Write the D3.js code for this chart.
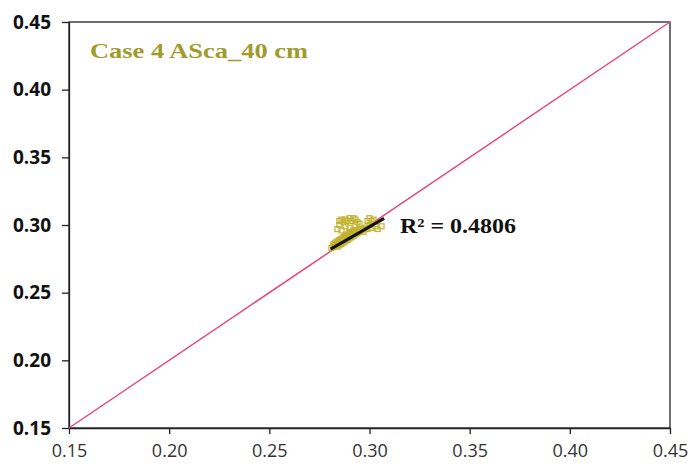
<!DOCTYPE html>
<html>
<head>
<meta charset="utf-8">
<script src="https://cdn.jsdelivr.net/npm/d3@7"></script>
<style>
  html, body { margin: 0; padding: 0; background: #fff; }
  svg { display: block; }
</style>
</head>
<body>
<svg id="chart" width="690" height="466"></svg>
<script>
// ---- data ----
const xTicks = [0.15, 0.20, 0.25, 0.30, 0.35, 0.40, 0.45];
const yTicks = [0.15, 0.20, 0.25, 0.30, 0.35, 0.40, 0.45];
const obsX = [0.281,0.282,0.282,0.283,0.283,0.284,0.284,0.284,0.285,0.285,0.285,0.286,0.286,0.286,0.287,0.287,0.287,0.288,0.288,0.288,0.289,0.289,0.289,0.290,0.290,0.290,0.291,0.291,0.291,0.292,0.292,0.292,0.293,0.293,0.294,0.294,0.295,0.295,0.296,0.297,0.297,
  0.284,0.285,0.285,0.286,0.287,0.288,0.289,0.290,0.291,0.292,0.293,0.294,0.293,0.295,0.288,0.290,0.286,
  0.299,0.300,0.301,0.302,0.300,0.301,0.303,0.304,0.306,0.299,0.298,
  0.2825,0.2835,0.2845,0.2855,0.2865,0.2875,0.2885,0.2895,0.2905,0.2915,0.2925];
const obsY = [0.283,0.284,0.286,0.285,0.287,0.284,0.286,0.288,0.285,0.287,0.289,0.286,0.288,0.290,0.287,0.289,0.291,0.288,0.290,0.292,0.289,0.291,0.293,0.290,0.292,0.294,0.291,0.293,0.295,0.292,0.294,0.296,0.293,0.295,0.294,0.296,0.295,0.297,0.296,0.295,0.297,
  0.297,0.300,0.303,0.304,0.302,0.304,0.303,0.305,0.303,0.305,0.304,0.302,0.300,0.301,0.299,0.298,0.296,
  0.303,0.305,0.303,0.304,0.300,0.298,0.299,0.297,0.299,0.297,0.298,
  0.2850,0.2860,0.2870,0.2880,0.2890,0.2900,0.2910,0.2920,0.2930,0.2940,0.2950];
const trendX = [0.2806, 0.3073];
const trendY = [0.2822, 0.3049];
const oneToOne = [0.15, 0.45];
const titleText = "Case 4 ASca_40 cm";
const r2Text = "R² = 0.4806";

// ---- layout ----
const svg = d3.select("#chart");
const m = { left: 69, top: 22, right: 690 - 670, bottom: 466 - 428 };
const W = 690 - m.left - m.right, H = 466 - m.top - m.bottom;
const x = d3.scaleLinear().domain([0.15, 0.45]).range([m.left, m.left + W]);
const y = d3.scaleLinear().domain([0.15, 0.45]).range([m.top + H, m.top]);

// frame (top/right)
svg.append("rect").attr("x", m.left).attr("y", m.top).attr("width", W).attr("height", H)
  .attr("fill", "none").attr("stroke", "#222").attr("stroke-width", 1.3);

// axes
const xAxis = svg.append("g").attr("transform", `translate(0,${m.top + H})`)
  .call(d3.axisBottom(x).tickValues(xTicks).tickFormat(d3.format(".2f")).tickSize(6).tickSizeOuter(0).tickPadding(10));
const yAxis = svg.append("g").attr("transform", `translate(${m.left},0)`)
  .call(d3.axisLeft(y).tickValues(yTicks).tickFormat(d3.format(".2f")).tickSize(7).tickSizeOuter(0).tickPadding(11));
[xAxis, yAxis].forEach(g => {
  g.select(".domain").attr("stroke", "#222").attr("stroke-width", 1.3);
  g.selectAll(".tick line").attr("stroke", "#222").attr("stroke-width", 1.3);
});
xAxis.selectAll("text").attr("font-family", "'Open Sans', sans-serif").attr("font-size", 18)
  .attr("fill", "#333");
yAxis.selectAll("text").attr("font-family", "'Open Sans', sans-serif").attr("font-size", 19)
  .attr("font-weight", "bold").attr("fill", "#111");

// 1:1 line
svg.append("line")
  .attr("x1", x(oneToOne[0])).attr("y1", y(oneToOne[0]))
  .attr("x2", x(oneToOne[1])).attr("y2", y(oneToOne[1]))
  .attr("stroke", "#e8457c").attr("stroke-width", 1.5);

// points
const pts = obsX.map((v, i) => ({ x: v, y: obsY[i] }));
const s = 5;
svg.append("g").selectAll("rect").data(pts).join("rect")
  .attr("x", d => x(d.x) - s / 2).attr("y", d => y(d.y) - s / 2)
  .attr("width", s).attr("height", s)
  .attr("fill", "none").attr("stroke", "#c2b22e").attr("stroke-width", 1.2);

// trendline
svg.append("line")
  .attr("x1", x(trendX[0])).attr("y1", y(trendY[0]))
  .attr("x2", x(trendX[1])).attr("y2", y(trendY[1]))
  .attr("stroke", "#111").attr("stroke-width", 3);

// texts
svg.append("text").attr("x", 90).attr("y", 58).text(titleText)
  .attr("font-family", "'Liberation Serif', serif").attr("font-weight", "bold")
  .attr("font-size", 22).attr("fill", "#a29b2c")
  .attr("textLength", 218).attr("lengthAdjust", "spacingAndGlyphs");
svg.append("text").attr("x", 400).attr("y", 233).text(r2Text)
  .attr("font-family", "'Liberation Serif', serif").attr("font-weight", "bold")
  .attr("font-size", 21).attr("fill", "#111")
  .attr("textLength", 116).attr("lengthAdjust", "spacingAndGlyphs");
</script>
</body>
</html>
